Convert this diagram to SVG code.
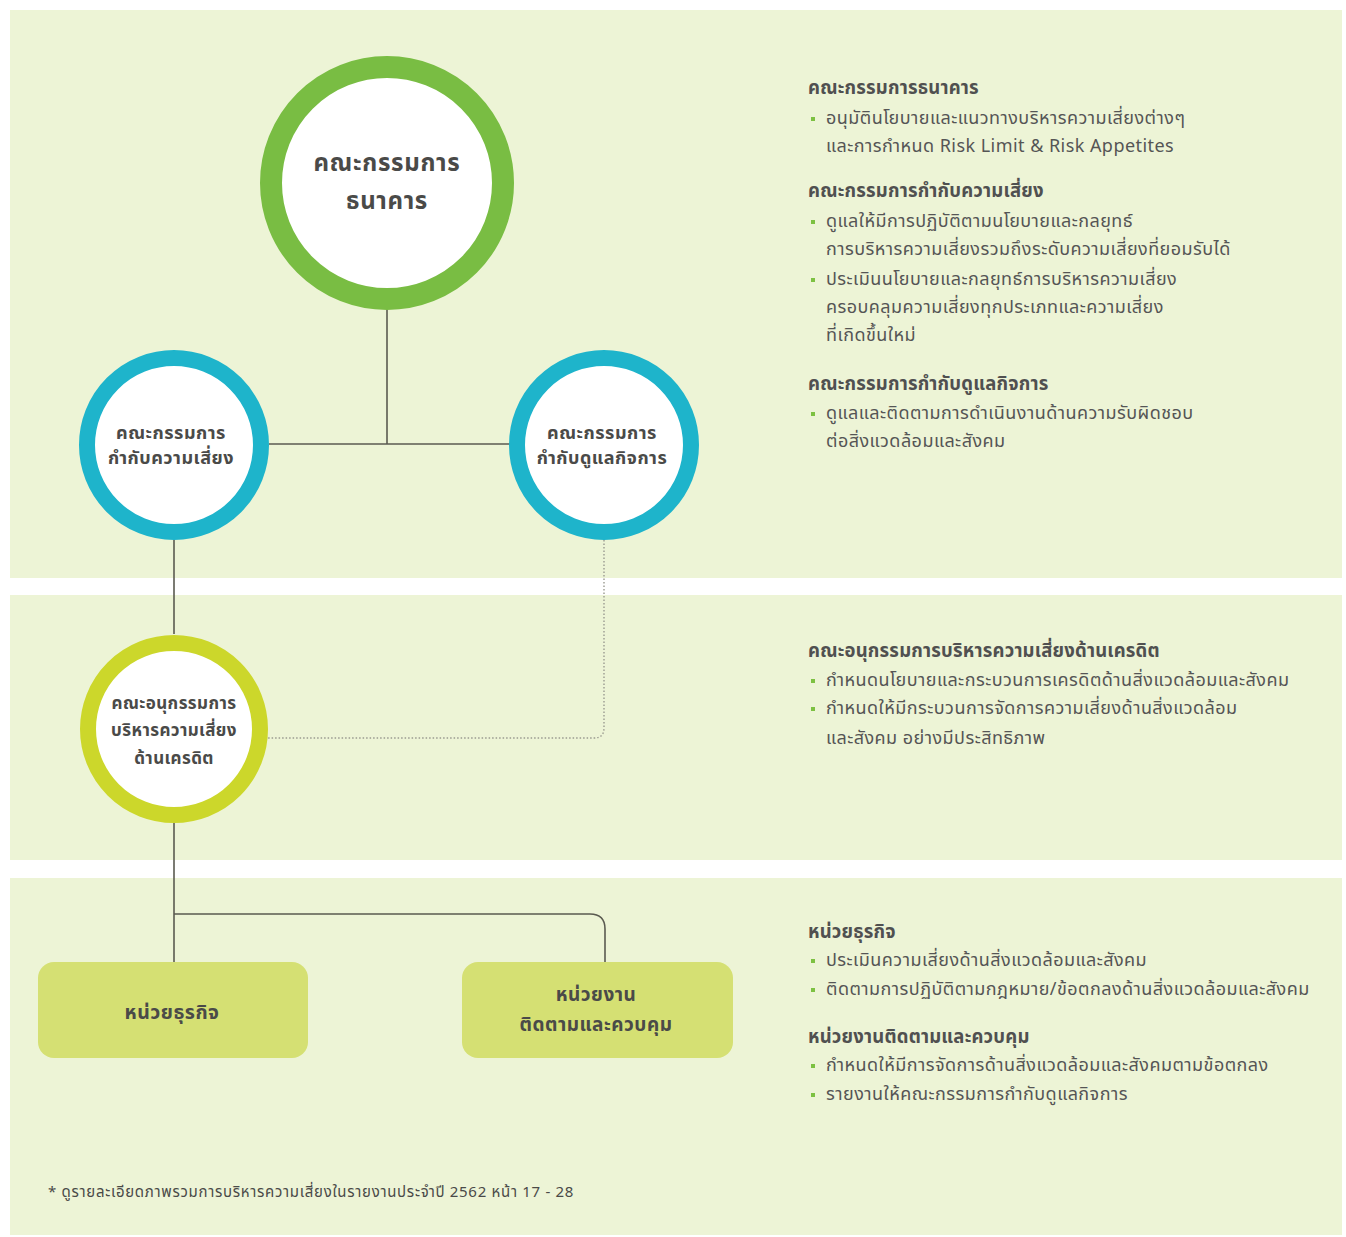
<svg xmlns="http://www.w3.org/2000/svg" width="1346" height="1237" viewBox="0 0 1346 1237">
  <style>
    text { font-family: "Noto Sans Thai", "Noto Sans", "Liberation Sans", sans-serif; fill: #4a4a48; }
    .panel { fill: #edf4d6; }
    .node-label { font-weight: bold; text-anchor: middle; }
    .head { font-size: 18.5px; font-weight: bold; fill: #505050; letter-spacing: 0.2px; }
    .item { font-size: 18px; fill: #555555; letter-spacing: 0.45px; }
    .bullet { fill: #7dc142; }
    .link { fill: none; stroke: #5a5a50; stroke-width: 1.6; }
    .dotted { fill: none; stroke: #9a9a90; stroke-width: 1.4; stroke-dasharray: 1.5 2; }
    .ring-green { fill: #ffffff; stroke: #79bd43; stroke-width: 22; }
    .ring-blue { fill: #ffffff; stroke: #1eb4cb; stroke-width: 16; }
    .ring-yellow { fill: #ffffff; stroke: #ccd72b; stroke-width: 16; }
    .box { fill: #d5e073; }
  </style>

  <!-- background bands -->
  <rect width="1346" height="1237" fill="#ffffff"/>
  <rect class="panel" x="10" y="10" width="1332" height="568"/>
  <rect class="panel" x="10" y="595" width="1332" height="265"/>
  <rect class="panel" x="10" y="878" width="1332" height="357"/>

  <!-- connectors -->
  <g id="connectors">
    <path class="link" d="M387 310 V444"/>
    <path class="link" d="M269 444 H511"/>
    <path class="link" d="M174 540 V634"/>
    <path class="dotted" d="M604 540 V728 Q604 738 594 738 H268"/>
    <path class="link" d="M174 822 V962"/>
    <path class="link" d="M174 914 H590 Q605 914 605 929 V962"/>
  </g>

  <!-- board -->
  <g id="node-board">
    <circle class="ring-green" cx="387" cy="183" r="116"/>
    <text class="node-label" x="387" y="171" font-size="24" letter-spacing="0.7">คณะกรรมการ</text>
    <text class="node-label" x="387" y="209" font-size="24" letter-spacing="0.7">ธนาคาร</text>
  </g>

  <g id="node-risk-committee">
    <circle class="ring-blue" cx="174" cy="445" r="87"/>
    <text class="node-label" x="171" y="439" font-size="18" letter-spacing="0.5">คณะกรรมการ</text>
    <text class="node-label" x="171" y="464" font-size="18" letter-spacing="0.5">กำกับความเสี่ยง</text>
  </g>

  <g id="node-governance-committee">
    <circle class="ring-blue" cx="604" cy="445" r="87"/>
    <text class="node-label" x="602" y="439" font-size="18" letter-spacing="0.5">คณะกรรมการ</text>
    <text class="node-label" x="602" y="464" font-size="18" letter-spacing="0.5">กำกับดูแลกิจการ</text>
  </g>

  <g id="node-credit-subcommittee">
    <circle class="ring-yellow" cx="174" cy="729" r="86"/>
    <text class="node-label" x="174" y="709" font-size="17" letter-spacing="0.4">คณะอนุกรรมการ</text>
    <text class="node-label" x="174" y="736" font-size="17" letter-spacing="0.4">บริหารความเสี่ยง</text>
    <text class="node-label" x="174" y="764" font-size="17" letter-spacing="0.4">ด้านเครดิต</text>
  </g>

  <g id="node-business-unit">
    <rect class="box" x="38" y="962" width="270" height="96" rx="16"/>
    <text class="node-label" x="172" y="1019" font-size="19.5" letter-spacing="0.5">หน่วยธุรกิจ</text>
  </g>

  <g id="node-monitoring-unit">
    <rect class="box" x="462" y="962" width="271" height="96" rx="16"/>
    <text class="node-label" x="596" y="1001" font-size="19" letter-spacing="0.5">หน่วยงาน</text>
    <text class="node-label" x="596" y="1031" font-size="19" letter-spacing="0.5">ติดตามและควบคุม</text>
  </g>

  <!-- responsibilities -->
  <g id="notes-top">
    <text class="head" x="808" y="94">คณะกรรมการธนาคาร</text>
    <rect class="bullet" x="811" y="117" width="4" height="4"/>
    <text class="item" x="826" y="124">อนุมัตินโยบายและแนวทางบริหารความเสี่ยงต่างๆ</text>
    <text class="item" x="826" y="152">และการกำหนด Risk Limit &amp; Risk Appetites</text>

    <text class="head" x="808" y="197">คณะกรรมการกำกับความเสี่ยง</text>
    <rect class="bullet" x="811" y="220" width="4" height="4"/>
    <text class="item" x="826" y="227">ดูแลให้มีการปฏิบัติตามนโยบายและกลยุทธ์</text>
    <text class="item" x="826" y="255">การบริหารความเสี่ยงรวมถึงระดับความเสี่ยงที่ยอมรับได้</text>
    <rect class="bullet" x="811" y="278" width="4" height="4"/>
    <text class="item" x="826" y="285">ประเมินนโยบายและกลยุทธ์การบริหารความเสี่ยง</text>
    <text class="item" x="826" y="313">ครอบคลุมความเสี่ยงทุกประเภทและความเสี่ยง</text>
    <text class="item" x="826" y="341">ที่เกิดขึ้นใหม่</text>

    <text class="head" x="808" y="390">คณะกรรมการกำกับดูแลกิจการ</text>
    <rect class="bullet" x="811" y="412" width="4" height="4"/>
    <text class="item" x="826" y="419">ดูแลและติดตามการดำเนินงานด้านความรับผิดชอบ</text>
    <text class="item" x="826" y="447">ต่อสิ่งแวดล้อมและสังคม</text>
  </g>

  <g id="notes-middle">
    <text class="head" x="808" y="657">คณะอนุกรรมการบริหารความเสี่ยงด้านเครดิต</text>
    <rect class="bullet" x="811" y="679" width="4" height="4"/>
    <text class="item" x="826" y="686">กำหนดนโยบายและกระบวนการเครดิตด้านสิ่งแวดล้อมและสังคม</text>
    <rect class="bullet" x="811" y="707" width="4" height="4"/>
    <text class="item" x="826" y="714">กำหนดให้มีกระบวนการจัดการความเสี่ยงด้านสิ่งแวดล้อม</text>
    <text class="item" x="826" y="744">และสังคม อย่างมีประสิทธิภาพ</text>
  </g>

  <g id="notes-bottom">
    <text class="head" x="808" y="938">หน่วยธุรกิจ</text>
    <rect class="bullet" x="811" y="959" width="4" height="4"/>
    <text class="item" x="826" y="966">ประเมินความเสี่ยงด้านสิ่งแวดล้อมและสังคม</text>
    <rect class="bullet" x="811" y="988" width="4" height="4"/>
    <text class="item" x="826" y="995">ติดตามการปฏิบัติตามกฎหมาย/ข้อตกลงด้านสิ่งแวดล้อมและสังคม</text>

    <text class="head" x="808" y="1043">หน่วยงานติดตามและควบคุม</text>
    <rect class="bullet" x="811" y="1064" width="4" height="4"/>
    <text class="item" x="826" y="1071">กำหนดให้มีการจัดการด้านสิ่งแวดล้อมและสังคมตามข้อตกลง</text>
    <rect class="bullet" x="811" y="1093" width="4" height="4"/>
    <text class="item" x="826" y="1100">รายงานให้คณะกรรมการกำกับดูแลกิจการ</text>
  </g>

  <text x="48" y="1197" font-size="15" fill="#555555" letter-spacing="0.7">* ดูรายละเอียดภาพรวมการบริหารความเสี่ยงในรายงานประจำปี 2562 หน้า 17 - 28</text>
</svg>
